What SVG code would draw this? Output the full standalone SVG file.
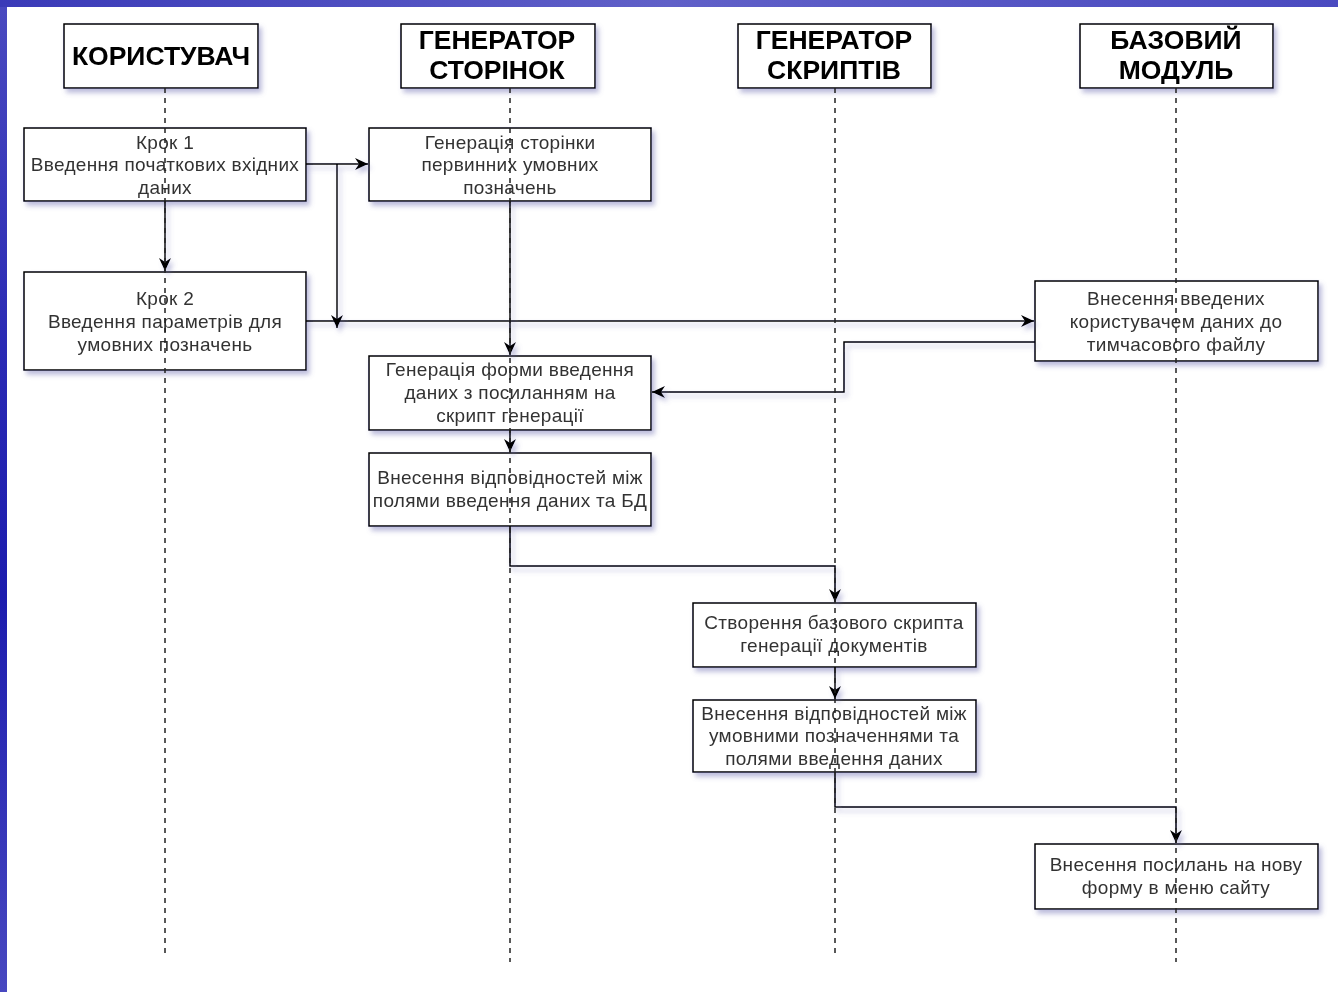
<svg xmlns="http://www.w3.org/2000/svg" width="1338" height="992" viewBox="0 0 1338 992">
<defs>
<linearGradient id="bg" x1="0" y1="0" x2="0" y2="1">
<stop offset="0" stop-color="#4a4ac0"/>
<stop offset="0.35" stop-color="#2a2ab4"/>
<stop offset="0.6" stop-color="#1c1cae"/>
<stop offset="1" stop-color="#4848c0"/>
</linearGradient>
<linearGradient id="tb" x1="0" y1="0" x2="1" y2="0">
<stop offset="0" stop-color="#3a3ab8"/>
<stop offset="0.5" stop-color="#6060c8"/>
<stop offset="1" stop-color="#4a4ac0"/>
</linearGradient>
<filter id="sh" x="-10%" y="-10%" width="130%" height="140%">
<feGaussianBlur in="SourceAlpha" stdDeviation="2.5"/>
<feOffset dx="3" dy="4" result="b"/>
<feFlood flood-color="#6a6ab0" flood-opacity="0.45"/>
<feComposite in2="b" operator="in"/>
<feMerge><feMergeNode/><feMergeNode in="SourceGraphic"/></feMerge>
</filter>
<marker id="ar" viewBox="0 0 14 14" refX="13" refY="7" markerWidth="14" markerHeight="14" markerUnits="userSpaceOnUse" orient="auto">
<path d="M0,1 L13,7 L0,13 L4,7 Z" fill="#000"/>
</marker>
</defs>
<style>
.box{fill:#fff;stroke:#000;stroke-width:1.5}
.hd{font-family:"Liberation Sans",Arial,sans-serif;font-weight:bold;font-size:26.5px;fill:#000;text-anchor:middle}
.tx{font-family:"Liberation Sans",Arial,sans-serif;font-size:19px;letter-spacing:0.3px;fill:#333;text-anchor:middle}
.life{stroke:#222;stroke-width:1.5;stroke-dasharray:5 5;fill:none}
.cn{stroke:#000;stroke-width:1.5;fill:none;marker-end:url(#ar)}
</style>
<rect x="0" y="0" width="1338" height="992" fill="url(#bg)"/>
<rect x="0" y="0" width="1338" height="7" fill="url(#tb)"/>
<rect x="7" y="7" width="1331" height="985" fill="#fff"/>

<g id="headers" filter="url(#sh)">
<g id="h-user"><rect class="box" x="64" y="24" width="194" height="64"/><text class="hd" x="161" y="65">КОРИСТУВАЧ</text></g>
<g id="h-pages"><rect class="box" x="401" y="24" width="194" height="64"/><text class="hd" x="497" y="49">ГЕНЕРАТОР</text><text class="hd" x="497" y="79">СТОРІНОК</text></g>
<g id="h-scripts"><rect class="box" x="738" y="24" width="193" height="64"/><text class="hd" x="834" y="49">ГЕНЕРАТОР</text><text class="hd" x="834" y="79">СКРИПТІВ</text></g>
<g id="h-base"><rect class="box" x="1080" y="24" width="193" height="64"/><text class="hd" x="1176" y="49">БАЗОВИЙ</text><text class="hd" x="1176" y="79">МОДУЛЬ</text></g>
</g>

<g id="nodes" filter="url(#sh)">
<g id="step1"><rect class="box" x="24" y="128" width="282" height="73"/><text class="tx" x="165" y="149">Крок 1</text><text class="tx" x="165" y="171">Введення початкових вхідних</text><text class="tx" x="165" y="194">даних</text></g>
<g id="genpage"><rect class="box" x="369" y="128" width="282" height="73"/><text class="tx" x="510" y="149">Генерація сторінки</text><text class="tx" x="510" y="171">первинних умовних</text><text class="tx" x="510" y="194">позначень</text></g>
<g id="step2"><rect class="box" x="24" y="272" width="282" height="98"/><text class="tx" x="165" y="305">Крок 2</text><text class="tx" x="165" y="328">Введення параметрів для</text><text class="tx" x="165" y="351">умовних позначень</text></g>
<g id="tmpfile"><rect class="box" x="1035" y="281" width="283" height="80"/><text class="tx" x="1176" y="305">Внесення введених</text><text class="tx" x="1176" y="328">користувачем даних до</text><text class="tx" x="1176" y="351">тимчасового файлу</text></g>
<g id="genform"><rect class="box" x="369" y="356" width="282" height="74"/><text class="tx" x="510" y="376">Генерація форми введення</text><text class="tx" x="510" y="399">даних з посиланням на</text><text class="tx" x="510" y="422">скрипт генерації</text></g>
<g id="mapdb"><rect class="box" x="369" y="453" width="282" height="73"/><text class="tx" x="510" y="484">Внесення відповідностей між</text><text class="tx" x="510" y="507">полями введення даних та БД</text></g>
<g id="basescript"><rect class="box" x="693" y="603" width="283" height="64"/><text class="tx" x="834" y="629">Створення базового скрипта</text><text class="tx" x="834" y="652">генерації документів</text></g>
<g id="mapsym"><rect class="box" x="693" y="700" width="283" height="72"/><text class="tx" x="834" y="720">Внесення відповідностей між</text><text class="tx" x="834" y="742">умовними позначеннями та</text><text class="tx" x="834" y="765">полями введення даних</text></g>
<g id="menu"><rect class="box" x="1035" y="844" width="283" height="65"/><text class="tx" x="1176" y="871">Внесення посилань на нову</text><text class="tx" x="1176" y="894">форму в меню сайту</text></g>
</g>

<g id="connectors" filter="url(#sh)">
<path class="cn" d="M306,164 H368"/>
<path class="cn" d="M337,164 V328"/>
<path class="cn" d="M165,201 V271"/>
<path class="cn" d="M306,321 H1034"/>
<path class="cn" d="M510,201 V355"/>
<path class="cn" d="M1035,342 H844 V392 H652"/>
<path class="cn" d="M510,430 V452"/>
<path class="cn" d="M510,526 V566 H835 V602"/>
<path class="cn" d="M835,667 V699"/>
<path class="cn" d="M835,772 V807 H1176 V843"/>
</g>

<g id="lifelines">
<path class="life" d="M165,88 V955"/>
<path class="life" d="M510,88 V962"/>
<path class="life" d="M835,88 V955"/>
<path class="life" d="M1176,88 V962"/>
</g>
</svg>
